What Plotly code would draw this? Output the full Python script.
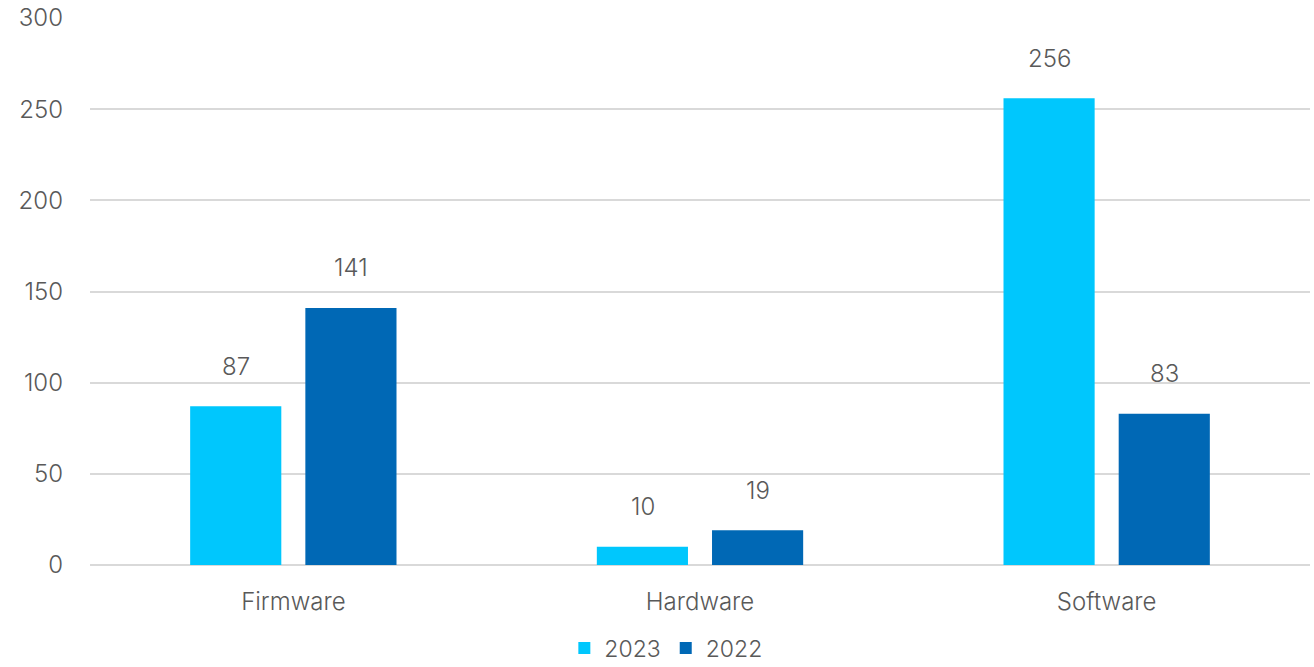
import plotly.graph_objects as go

categories = ["Firmware", "Hardware", "Software"]
series_names = ["2023", "2022"]
values_2023 = [87, 10, 256]
values_2022 = [141, 19, 83]
y_ticks = [0, 50, 100, 150, 200, 250, 300]

colors = ["#00C7FD", "#0068B5"]
font_family = "Inter"
text_color = "#595959"
fsize = 24

fig = go.Figure()
for name, vals, col in zip(series_names, [values_2023, values_2022], colors):
    fig.add_trace(go.Bar(x=categories, y=vals, name=name, marker=dict(color=col, line=dict(width=0))))

offsets = [-57.5, 57.5]
for vals, dx in zip([values_2023, values_2022], offsets):
    for c, v in zip(categories, vals):
        fig.add_annotation(x=c, y=v, text=str(v), showarrow=False, xref="x", yref="y",
                           xshift=dx, yshift=40, yanchor="middle",
                           font=dict(family=font_family, size=fsize, color=text_color, weight=300))

fig.update_layout(
    width=1314, height=667,
    margin=dict(l=90, r=4, t=18, b=102, autoexpand=False),
    plot_bgcolor="white", paper_bgcolor="white",
    barmode="group", bargap=0.4335, bargroupgap=0.2087,
    font=dict(family=font_family, size=fsize, color=text_color, weight=300),
    showlegend=True,
    legend=dict(orientation="h", x=0.472, xanchor="center", y=-0.152, yanchor="middle",
                font=dict(family=font_family, size=23, color=text_color, weight=300),
                itemwidth=30, traceorder="normal", tracegroupgap=0),
)
fig.update_yaxes(range=[0, 300], tickvals=y_ticks, showgrid=True, gridcolor="#D9D9D9", gridwidth=1.5,
                 zeroline=True, zerolinecolor="#D9D9D9", zerolinewidth=1.5, showline=False,
                 ticks="", ticklabelstandoff=26, fixedrange=True)
fig.update_xaxes(showgrid=False, showline=False, ticks="", ticklabelstandoff=20)

fig.write_html("out.html")
